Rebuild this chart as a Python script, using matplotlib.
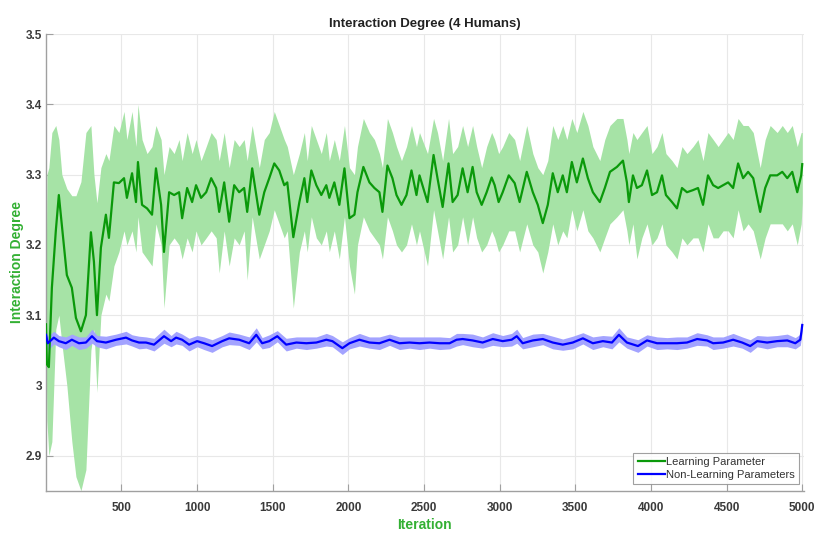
import matplotlib
matplotlib.use("Agg")
import matplotlib.pyplot as plt
import numpy as np

# ---------------- data ----------------
green_x = [1, 7, 20, 40, 66, 86, 106, 139, 172, 199, 232, 265, 298, 318, 338, 364, 397, 417, 450, 483,
           517, 536, 570, 596, 609, 636, 669, 702, 728, 762, 781, 815, 848, 881, 901, 934, 967, 993, 1026, 1060,
           1093, 1126, 1146, 1179, 1212, 1245, 1278, 1311, 1331, 1364, 1411, 1444, 1477, 1510, 1543, 1576, 1596, 1636, 1676, 1709,
           1728, 1755, 1788, 1821, 1854, 1874, 1907, 1940, 1974, 2007, 2040, 2060, 2099, 2139, 2172, 2205, 2225, 2258, 2291, 2318,
           2351, 2384, 2417, 2450, 2470, 2523, 2563, 2589, 2623, 2662, 2689, 2722, 2755, 2788, 2821, 2848, 2881, 2914, 2947, 2967,
           2993, 3020, 3060, 3099, 3132, 3179, 3219, 3252, 3285, 3318, 3351, 3384, 3417, 3444, 3477, 3510, 3550, 3583, 3616, 3662,
           3695, 3729, 3775, 3815, 3841, 3854, 3881, 3907, 3940, 3974, 4007, 4040, 4073, 4099, 4139, 4172, 4205, 4238, 4278, 4311,
           4344, 4377, 4411, 4444, 4477, 4510, 4543, 4576, 4609, 4642, 4676, 4722, 4755, 4788, 4834, 4868, 4901, 4934, 4967, 4993,
           5000]
green_mean = [3.087, 3.030, 3.026, 3.139, 3.220, 3.271, 3.228, 3.157, 3.139, 3.096, 3.077, 3.100, 3.218, 3.176, 3.100, 3.196, 3.243, 3.210, 3.289, 3.288,
              3.295, 3.267, 3.302, 3.261, 3.318, 3.257, 3.252, 3.243, 3.309, 3.257, 3.190, 3.275, 3.271, 3.275, 3.238, 3.281, 3.261, 3.285, 3.267, 3.275,
              3.295, 3.281, 3.247, 3.289, 3.233, 3.285, 3.275, 3.281, 3.247, 3.309, 3.243, 3.275, 3.295, 3.316, 3.306, 3.285, 3.289, 3.211, 3.261, 3.295,
              3.261, 3.306, 3.285, 3.271, 3.285, 3.267, 3.289, 3.257, 3.309, 3.238, 3.243, 3.275, 3.311, 3.289, 3.281, 3.275, 3.247, 3.313, 3.295, 3.271,
              3.257, 3.271, 3.306, 3.271, 3.299, 3.261, 3.328, 3.295, 3.254, 3.316, 3.261, 3.271, 3.309, 3.275, 3.311, 3.275, 3.257, 3.275, 3.296, 3.285,
              3.261, 3.275, 3.299, 3.288, 3.261, 3.304, 3.275, 3.257, 3.231, 3.257, 3.302, 3.275, 3.299, 3.275, 3.318, 3.289, 3.323, 3.295, 3.275, 3.261,
              3.281, 3.304, 3.311, 3.320, 3.289, 3.261, 3.299, 3.281, 3.285, 3.306, 3.271, 3.275, 3.299, 3.271, 3.261, 3.252, 3.281, 3.275, 3.278, 3.281,
              3.257, 3.299, 3.285, 3.281, 3.285, 3.289, 3.281, 3.316, 3.295, 3.304, 3.295, 3.247, 3.281, 3.299, 3.299, 3.304, 3.295, 3.304, 3.275, 3.299,
              3.315]
green_upper = [3.10, 3.30, 3.31, 3.36, 3.37, 3.35, 3.30, 3.28, 3.27, 3.27, 3.29, 3.36, 3.37, 3.30, 3.26, 3.31, 3.33, 3.32, 3.37, 3.36,
               3.39, 3.35, 3.39, 3.34, 3.40, 3.35, 3.33, 3.34, 3.37, 3.35, 3.30, 3.34, 3.33, 3.35, 3.32, 3.36, 3.33, 3.35, 3.32, 3.34,
               3.36, 3.35, 3.32, 3.36, 3.31, 3.35, 3.34, 3.35, 3.32, 3.37, 3.31, 3.35, 3.36, 3.39, 3.37, 3.35, 3.34, 3.30, 3.33, 3.36,
               3.32, 3.37, 3.35, 3.33, 3.36, 3.32, 3.35, 3.32, 3.37, 3.31, 3.30, 3.34, 3.38, 3.36, 3.35, 3.33, 3.31, 3.38, 3.36, 3.34,
               3.32, 3.34, 3.37, 3.34, 3.36, 3.33, 3.38, 3.36, 3.32, 3.38, 3.33, 3.34, 3.37, 3.34, 3.37, 3.34, 3.31, 3.34, 3.36, 3.35,
               3.33, 3.34, 3.36, 3.35, 3.32, 3.37, 3.33, 3.31, 3.30, 3.32, 3.37, 3.35, 3.37, 3.35, 3.38, 3.36, 3.39, 3.37, 3.34, 3.32,
               3.35, 3.37, 3.38, 3.38, 3.35, 3.33, 3.36, 3.35, 3.36, 3.37, 3.33, 3.34, 3.36, 3.33, 3.32, 3.31, 3.34, 3.33, 3.34, 3.35,
               3.32, 3.36, 3.35, 3.34, 3.35, 3.36, 3.35, 3.38, 3.37, 3.37, 3.36, 3.31, 3.35, 3.37, 3.36, 3.37, 3.36, 3.37, 3.34, 3.36,
               3.36]
green_lower = [3.07, 2.95, 2.90, 2.92, 3.08, 3.10, 3.06, 3.00, 2.92, 2.87, 2.85, 2.88, 3.05, 3.08, 2.99, 3.10, 3.13, 3.12, 3.17, 3.19,
               3.22, 3.20, 3.22, 3.19, 3.24, 3.19, 3.18, 3.17, 3.23, 3.20, 3.11, 3.20, 3.21, 3.20, 3.18, 3.21, 3.19, 3.22, 3.20, 3.21,
               3.22, 3.21, 3.16, 3.22, 3.17, 3.21, 3.20, 3.22, 3.15, 3.24, 3.18, 3.20, 3.22, 3.25, 3.23, 3.21, 3.22, 3.11, 3.19, 3.22,
               3.19, 3.24, 3.21, 3.20, 3.22, 3.19, 3.22, 3.18, 3.24, 3.17, 3.13, 3.20, 3.24, 3.22, 3.21, 3.20, 3.18, 3.24, 3.22, 3.20,
               3.19, 3.20, 3.23, 3.20, 3.22, 3.17, 3.25, 3.22, 3.18, 3.24, 3.19, 3.20, 3.24, 3.20, 3.24, 3.21, 3.19, 3.20, 3.22, 3.21,
               3.19, 3.20, 3.22, 3.22, 3.19, 3.23, 3.20, 3.19, 3.16, 3.19, 3.23, 3.20, 3.22, 3.21, 3.25, 3.22, 3.25, 3.22, 3.21, 3.19,
               3.21, 3.23, 3.24, 3.25, 3.22, 3.20, 3.23, 3.18, 3.21, 3.23, 3.20, 3.21, 3.23, 3.20, 3.19, 3.18, 3.21, 3.20, 3.21, 3.21,
               3.19, 3.23, 3.21, 3.21, 3.22, 3.22, 3.21, 3.25, 3.22, 3.23, 3.22, 3.18, 3.21, 3.23, 3.23, 3.23, 3.22, 3.23, 3.20, 3.23,
               3.26]

blue_x = [1, 13, 53, 86, 132, 172, 219, 265, 305, 338, 397, 464, 530, 570, 616, 662, 715, 781, 828, 861,
          901, 947, 1000, 1046, 1099, 1166, 1212, 1278, 1344, 1391, 1430, 1477, 1530, 1589, 1656, 1722, 1788, 1854, 1894, 1960,
          2007, 2073, 2139, 2205, 2272, 2338, 2404, 2470, 2536, 2603, 2669, 2715, 2755, 2821, 2887, 2954, 3020, 3079, 3113, 3152,
          3219, 3285, 3351, 3417, 3483, 3550, 3616, 3682, 3742, 3788, 3841, 3914, 3974, 4040, 4106, 4172, 4238, 4305, 4371, 4411,
          4477, 4543, 4603, 4656, 4702, 4768, 4834, 4901, 4954, 4987, 4995, 5000]
blue_mean = [3.072, 3.060, 3.068, 3.063, 3.060, 3.065, 3.060, 3.061, 3.070, 3.063, 3.061, 3.065, 3.068, 3.064, 3.061, 3.061, 3.058, 3.070, 3.063, 3.068,
             3.065, 3.058, 3.063, 3.060, 3.056, 3.063, 3.067, 3.065, 3.060, 3.072, 3.060, 3.063, 3.070, 3.058, 3.061, 3.060, 3.061, 3.065, 3.063, 3.053,
             3.060, 3.065, 3.061, 3.060, 3.065, 3.060, 3.061, 3.060, 3.061, 3.060, 3.060, 3.065, 3.066, 3.064, 3.061, 3.066, 3.063, 3.065, 3.070, 3.060,
             3.064, 3.066, 3.061, 3.058, 3.061, 3.067, 3.060, 3.063, 3.061, 3.072, 3.061, 3.056, 3.064, 3.060, 3.060, 3.060, 3.061, 3.066, 3.064, 3.060,
             3.061, 3.065, 3.061, 3.056, 3.063, 3.061, 3.063, 3.064, 3.060, 3.065, 3.077, 3.086]
blue_spread = [0.006, 0.010, 0.009, 0.008, 0.009, 0.008, 0.009, 0.008, 0.010, 0.008, 0.009, 0.008, 0.009, 0.008, 0.009, 0.008, 0.009, 0.010, 0.008, 0.009,
               0.008, 0.009, 0.008, 0.009, 0.009, 0.008, 0.009, 0.008, 0.009, 0.010, 0.008, 0.009, 0.008, 0.009, 0.008, 0.009, 0.008, 0.009, 0.008, 0.009,
               0.008, 0.009, 0.008, 0.009, 0.008, 0.009, 0.008, 0.009, 0.008, 0.009, 0.008, 0.009, 0.008, 0.009, 0.008, 0.009, 0.008, 0.009, 0.010, 0.008,
               0.009, 0.008, 0.009, 0.008, 0.009, 0.008, 0.009, 0.008, 0.009, 0.010, 0.008, 0.009, 0.008, 0.009, 0.008, 0.009, 0.008, 0.009, 0.008, 0.009,
               0.008, 0.009, 0.008, 0.009, 0.008, 0.009, 0.008, 0.009, 0.008, 0.008, 0.008, 0.007]

x_ticks = [500, 1000, 1500, 2000, 2500, 3000, 3500, 4000, 4500, 5000]
y_ticks = [2.9, 3.0, 3.1, 3.2, 3.3, 3.4, 3.5]
y_tick_labels = ["2.9", "3", "3.1", "3.2", "3.3", "3.4", "3.5"]
legend_labels = ["Learning Parameter", "Non-Learning Parameters"]

# ---------------- plot ----------------
plt.rcParams['font.family'] = ['Liberation Sans', 'DejaVu Sans']
fig = plt.figure(figsize=(8.21, 5.34), dpi=100)
ax = fig.add_axes([0.056, 0.081, 0.923, 0.855])

bm = np.array(blue_mean)
bs = np.array(blue_spread)

ax.fill_between(green_x, green_lower, green_upper, color='#a6e3a6', linewidth=0, zorder=2)
ax.plot(green_x, green_mean, color='#0a990a', linewidth=1.6, zorder=4, label=legend_labels[0])
ax.fill_between(blue_x, bm - bs, bm + bs, color='#a3a3ff', linewidth=0, zorder=3)
ax.plot(blue_x, blue_mean, color='#0000ff', linewidth=1.6, zorder=5, label=legend_labels[1])

ax.set_xlim(1, 5010)
ax.set_ylim(2.85, 3.5)
ax.set_xticks(x_ticks)
ax.set_yticks(y_ticks)
ax.set_yticklabels(y_tick_labels)
ax.grid(True, color='#e8e8e8', linewidth=0.8, zorder=0)
ax.set_axisbelow(True)

for s in ['top', 'right']:
    ax.spines[s].set_visible(False)
for s in ['left', 'bottom']:
    ax.spines[s].set_color('#a0a0a0')
    ax.spines[s].set_linewidth(1.0)

ax.tick_params(axis='both', direction='in', length=5, color='#a0a0a0',
               labelsize=8.5, labelcolor='#3a3a3a')
ax.tick_params(axis='x', pad=8)
ax.tick_params(axis='y', pad=3)
for lab in ax.get_xticklabels() + ax.get_yticklabels():
    lab.set_fontweight('bold')

ax.set_title("Interaction Degree (4 Humans)", fontsize=9.5, fontweight='bold', color='#222222', pad=5)
ax.set_xlabel("Iteration", fontsize=10, fontweight='bold', color='#33b033', labelpad=3)
ax.set_ylabel("Interaction Degree", fontsize=10, fontweight='bold', color='#33b033', labelpad=1)

leg = ax.legend(loc='lower right', prop={'size': 8.0}, frameon=True, fancybox=False,
                edgecolor='#888888', handlelength=2.4, handletextpad=0.1,
                borderpad=0.4, labelspacing=0.25, borderaxespad=0.0,
                bbox_to_anchor=(0.9935, 0.014))
leg.get_frame().set_linewidth(0.8)
for t in leg.get_texts():
    t.set_color('#333333')

fig.savefig("out.png", dpi=100)
